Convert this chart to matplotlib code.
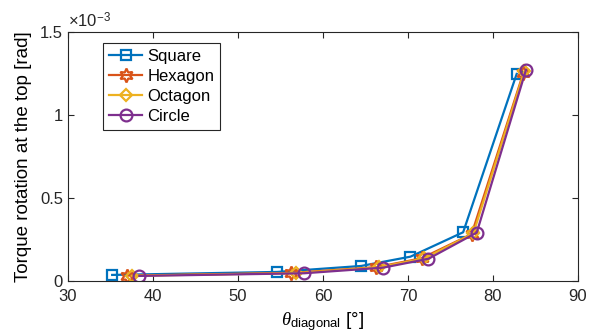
import numpy as np
import matplotlib.pyplot as plt
from matplotlib.ticker import FuncFormatter

plt.rcParams['font.family'] = ['Liberation Sans', 'DejaVu Sans']
plt.rcParams['mathtext.fontset'] = 'custom'
plt.rcParams['mathtext.rm'] = 'Liberation Sans'
plt.rcParams['mathtext.it'] = 'Liberation Serif:italic'

# diagonal angle [deg] and torque rotation at the top [rad] per cross-section
sq_x = [35.2, 54.6, 64.5, 70.3, 76.5, 82.8]
sq_y = [0.036e-3, 0.054e-3, 0.090e-3, 0.146e-3, 0.293e-3, 1.247e-3]
hex_x = [37.0, 56.3, 66.3, 71.6, 77.5, 83.6]
hex_y = [0.032e-3, 0.048e-3, 0.083e-3, 0.136e-3, 0.282e-3, 1.255e-3]
oct_x = [37.5, 56.8, 66.6, 71.9, 77.7, 83.7]
oct_y = [0.031e-3, 0.047e-3, 0.082e-3, 0.135e-3, 0.286e-3, 1.262e-3]
cir_x = [38.4, 57.8, 67.1, 72.4, 78.1, 83.9]
cir_y = [0.030e-3, 0.046e-3, 0.080e-3, 0.133e-3, 0.291e-3, 1.272e-3]

series = [
    ('Square', sq_x, sq_y, 's', '#0072BD', 6.5),
    ('Hexagon', hex_x, hex_y, (6, 1, 0), '#D95319', 10),
    ('Octagon', oct_x, oct_y, 'D', '#EDB120', 6.5),
    ('Circle', cir_x, cir_y, 'o', '#7E2F8E', 8.5),
]

fig = plt.figure(figsize=(6.07, 3.36), dpi=100)
ax = fig.add_axes([0.112, 0.164, 0.840, 0.741])

for name, x, y, mk, col, ms in series:
    ax.plot(x, y, marker=mk, color=col, lw=1.6, ms=ms, mew=1.6,
            mfc='none', label=name)

ax.set_xlim(30, 90)
ax.set_ylim(0, 1.5e-3)
ax.set_xticks(np.arange(30, 91, 10))
ax.set_yticks([0, 0.5e-3, 1e-3, 1.5e-3])
ax.yaxis.set_major_formatter(FuncFormatter(lambda v, p: f'{v * 1e3:g}'))
ax.text(0.0, 1.005, r'$\times10^{\mathrm{-3}}$', transform=ax.transAxes,
        fontsize=12, ha='left', va='bottom', color='#262626')

ax.tick_params(direction='in', top=True, right=True, labelsize=12,
               colors='#262626', length=4, width=0.8)
ax.tick_params(axis='x', pad=6)
for s in ax.spines.values():
    s.set_color('#262626')
    s.set_linewidth(0.8)

ax.set_xlabel(r'$\theta_{\mathrm{diagonal}}$ [°]', fontsize=13.5, labelpad=4)
ax.set_ylabel('Torque rotation at the top [rad]', fontsize=13.5, labelpad=6)

leg = ax.legend(loc='upper left', bbox_to_anchor=(0.069, 0.956), fontsize=12,
                fancybox=False, edgecolor='#262626', framealpha=1,
                borderaxespad=0, handlelength=2.0, borderpad=0.35,
                labelspacing=0.3, handletextpad=0.3)
leg.get_frame().set_linewidth(0.8)

fig.savefig('out.png', dpi=100)
